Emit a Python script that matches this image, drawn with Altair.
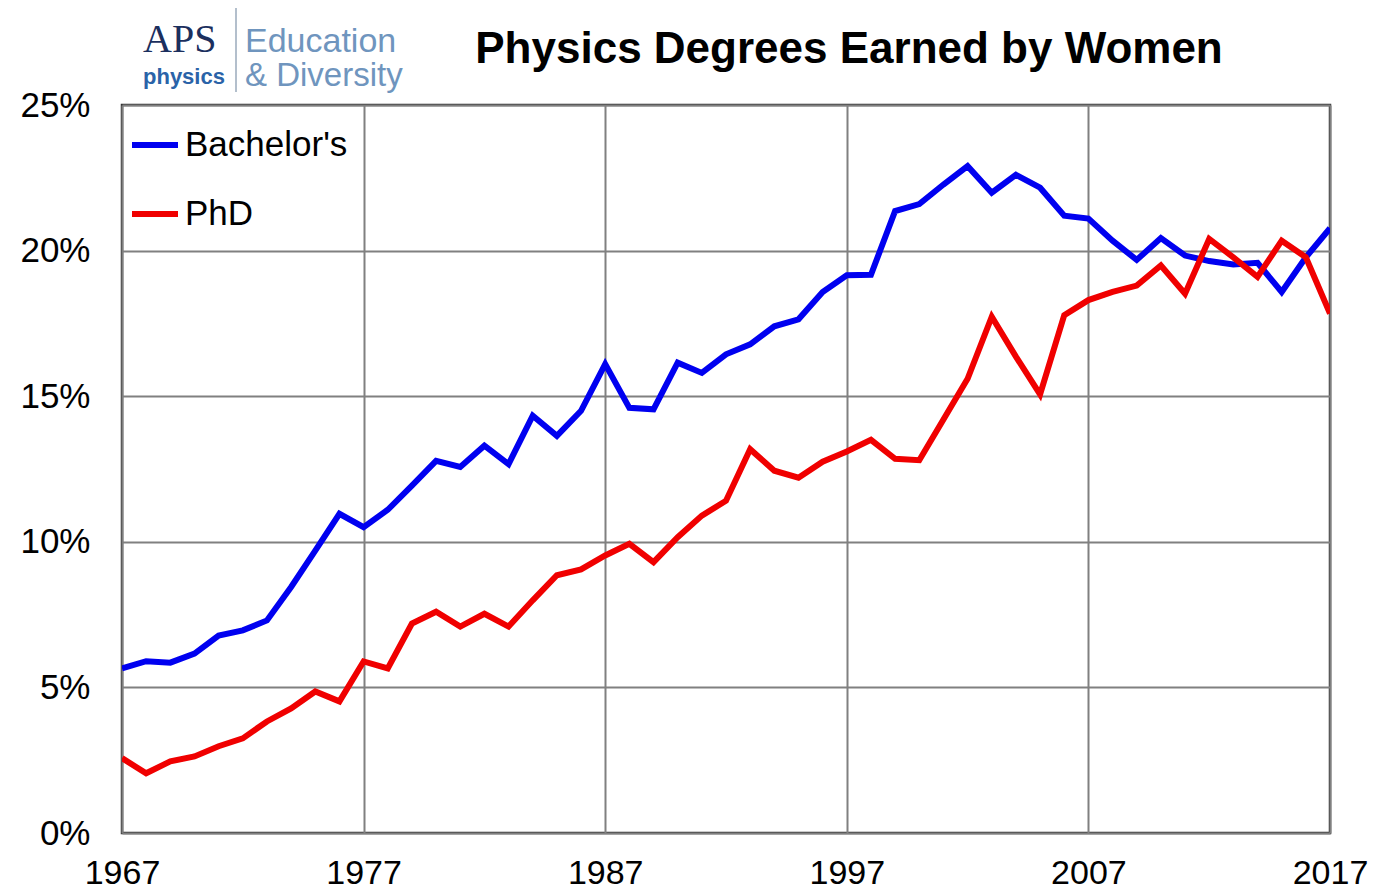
import altair as alt
import pandas as pd

years = list(range(1967, 2018))
bachelors = [5.65, 5.9, 5.85, 6.16, 6.78, 6.96, 7.3, 8.45, 9.7, 10.96,
             10.5, 11.1, 11.93, 12.78, 12.57, 13.3, 12.67, 14.33, 13.64, 14.5,
             16.1, 14.6, 14.55, 16.15, 15.8, 16.44, 16.78, 17.4, 17.64, 18.58,
             19.15, 19.17, 21.36, 21.6, 22.27, 22.9, 21.99, 22.6, 22.16, 21.2,
             21.1, 20.34, 19.68, 20.43, 19.83, 19.64, 19.52, 19.58, 18.58, 19.77,
             20.77]
phd = [2.57, 2.05, 2.46, 2.63, 2.98, 3.25, 3.83, 4.28, 4.86, 4.52,
       5.89, 5.65, 7.19, 7.6, 7.09, 7.53, 7.09, 7.99, 8.85, 9.05,
       9.53, 9.93, 9.3, 10.16, 10.9, 11.41, 13.18, 12.44, 12.2, 12.75,
       13.1, 13.5, 12.85, 12.8, 14.2, 15.6, 17.73, 16.36, 15.06, 17.78,
       18.3, 18.58, 18.8, 19.49, 18.52, 20.4, 19.77, 19.1, 20.34, 19.77,
       17.84]
series_names = ["Bachelor's", "PhD"]
series_colors = ["#0000F0", "#F00000"]
x_ticks = [1967, 1977, 1987, 1997, 2007, 2017]
y_ticks = [0, 5, 10, 15, 20, 25]
title_text = "Physics Degrees Earned by Women"

df = pd.DataFrame({
    "year": years + years,
    "value": bachelors + phd,
    "series": [series_names[0]] * len(years) + [series_names[1]] * len(years),
})

FONT = "Liberation Sans"

lines = alt.Chart(df).mark_line(strokeWidth=6, clip=True).encode(
    x=alt.X("year:Q",
            scale=alt.Scale(domain=[1967, 2017], nice=False, zero=False),
            axis=alt.Axis(values=x_ticks, format="d", title=None, grid=True,
                          labelPadding=23, labelFlush=False)),
    y=alt.Y("value:Q",
            scale=alt.Scale(domain=[0, 25], nice=False),
            axis=alt.Axis(values=y_ticks, labelExpr="datum.value + '%'",
                          title=None, grid=True, labelPadding=32, labelFontSize=35)),
    color=alt.Color("series:N",
                    scale=alt.Scale(domain=series_names, range=series_colors),
                    legend=alt.Legend(title=None, orient="none", legendX=7, legendY=14,
                                      symbolType="stroke", symbolStrokeWidth=6,
                                      symbolSize=2116, labelFontSize=35, labelFont=FONT,
                                      labelColor="black", rowPadding=25, labelOffset=4,
                                      labelLimit=0, padding=0)),
)

def txt(s, x, y, size, color="black", weight="normal", font=FONT, align="left"):
    return alt.Chart(pd.DataFrame({"t": [s]})).mark_text(
        font=font, fontSize=size, fontWeight=weight, color=color,
        align=align, baseline="alphabetic"
    ).encode(text="t:N", x=alt.value(x), y=alt.value(y))

title = txt(title_text, 727, -42, 44, weight="bold", align="center")
aps = txt("APS", 21, -53, 40, color="#1b2f5e", font="Liberation Serif")
phys = txt("physics", 21, -21, 22, color="#2a63a8", weight="bold")
edu = txt("Education", 123, -53, 34, color="#6f95be")
div = txt("& Diversity", 123, -19, 33, color="#6f95be")
sep = alt.Chart(pd.DataFrame({"a": [0]})).mark_rule(color="#9aaabb", strokeWidth=1.5).encode(
    x=alt.value(114), y=alt.value(-97), y2=alt.value(-13))

chart = alt.layer(lines, title, aps, phys, edu, div, sep).properties(
    width=1208, height=728,
    autosize=alt.AutoSizeParams(type="none"),
    padding={"left": 114, "top": 97, "right": 45, "bottom": 54},
).configure_view(
    stroke="#333333", strokeWidth=2.5
).configure_axis(
    labelFont=FONT, labelFontSize=34, labelColor="black",
    gridColor="#808080", gridWidth=2, domain=False, ticks=False,
)

chart.save("out.html", embed_options={"renderer": "svg", "actions": False})
